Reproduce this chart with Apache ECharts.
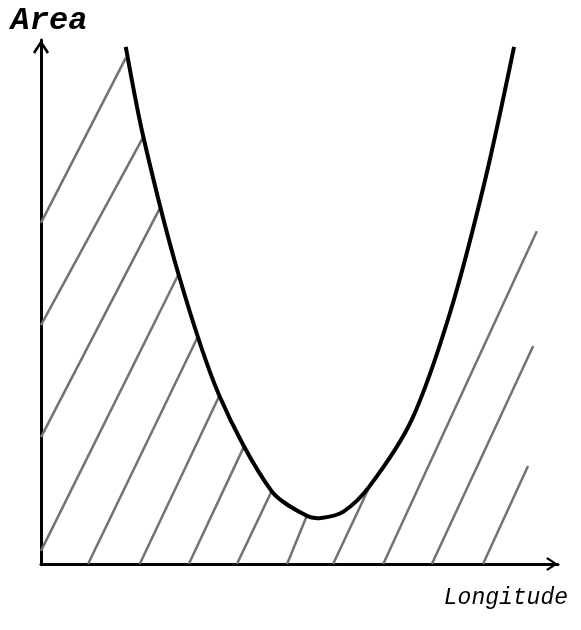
<!DOCTYPE html>
<html>
<head>
<meta charset="utf-8">
<script src="https://cdn.jsdelivr.net/npm/echarts@6/dist/echarts.min.js"></script>
<style>
  html, body { margin: 0; padding: 0; background: #fff; }
  #main { width: 581px; height: 630px; }
</style>
</head>
<body>
<div id="main"></div>
<script>
// curve points (x: longitude, y: area)
var curveX = [1.64, 1.98, 2.66, 3.45, 4.46, 5.14, 5.42, 5.85, 6.36, 7.17, 7.91, 8.59, 9.15];
var curveY = [9.87, 8.15, 5.53, 3.21, 1.39, 0.92, 0.88, 1.00, 1.49, 2.75, 4.79, 7.33, 9.87];

// hatch strokes: start point and end point
var hatchStart = [[0, 6.51], [0, 4.56], [0, 2.42], [0, 0.25], [0.91, 0], [1.91, 0], [2.86, 0],
                  [3.79, 0], [4.76, 0], [5.65, 0], [6.62, 0], [7.56, 0], [8.55, 0]];
var hatchEnd = [[1.64, 9.66], [1.98, 8.15], [2.32, 6.83], [2.66, 5.53], [3.04, 4.35], [3.45, 3.21], [3.93, 2.25],
                [4.46, 1.39], [5.15, 0.94], [6.36, 1.49], [9.59, 6.35], [9.52, 4.16], [9.42, 1.87]];

var chevron = 'path://M8,0 L16,12 L14,14 L8,4.5 L2,14 L0,12 Z';

var chart = echarts.init(document.getElementById('main'));

var curve = curveX.map(function (x, i) { return [x, curveY[i]]; });
var hatch = hatchStart.map(function (s, i) { return { coords: [s, hatchEnd[i]] }; });

var option = {
  animation: false,
  grid: { left: 41, right: 23, top: 40, bottom: 66 },
  xAxis: {
    type: 'value', min: 0, max: 10,
    name: 'Longitude',
    nameLocation: 'end',
    nameGap: 10,
    nameTextStyle: {
      fontFamily: 'Liberation Mono', fontStyle: 'italic', fontSize: 23, color: '#000',
      align: 'right', verticalAlign: 'top', padding: [22, 0, 0, 0]
    },
    axisLine: {
      lineStyle: { color: '#000', width: 3 },
      symbol: ['none', chevron], symbolSize: [17, 12], symbolOffset: [0, -6]
    },
    axisTick: { show: false }, axisLabel: { show: false }, splitLine: { show: false }
  },
  yAxis: {
    type: 'value', min: 0, max: 10,
    name: 'Area',
    nameLocation: 'end',
    nameGap: 3,
    nameTextStyle: {
      fontFamily: 'Liberation Mono', fontStyle: 'italic', fontWeight: 'bold', fontSize: 32, color: '#000',
      padding: [0, 0, 0, 16]
    },
    axisLine: {
      lineStyle: { color: '#000', width: 3 },
      symbol: ['none', chevron], symbolSize: [17, 14], symbolOffset: [0, -7]
    },
    axisTick: { show: false }, axisLabel: { show: false }, splitLine: { show: false }
  },
  series: [
    {
      type: 'lines',
      coordinateSystem: 'cartesian2d',
      data: hatch,
      lineStyle: { color: '#786e78', width: 2.5, opacity: 1 },
      z: 1
    },
    {
      // one smooth stroke through all the curve points
      type: 'custom',
      coordinateSystem: 'cartesian2d',
      data: [curve[0]],
      renderItem: function (params, api) {
        var pts = curve.map(function (p) { return api.coord(p); });
        return {
          type: 'polyline',
          shape: { points: pts, smooth: 0.3 },
          style: { stroke: '#000', lineWidth: 4, fill: null }
        };
      },
      z: 3
    }
  ]
};

chart.setOption(option);
</script>
</body>
</html>
